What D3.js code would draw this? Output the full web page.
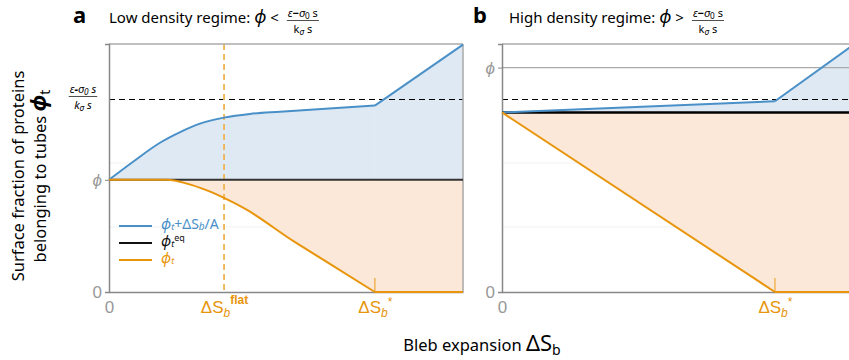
<!DOCTYPE html>
<html>
<head>
<meta charset="utf-8">
<script src="https://cdn.jsdelivr.net/npm/d3@7"></script>
<style>
  body { margin: 0; background: #fff; }
  svg { display: block; }
  text { font-family: "Noto Sans", "Open Sans", sans-serif; }
  .tick text { font-family: "Liberation Sans", Arial, sans-serif; }
</style>
</head>
<body>
<div id="chart"></div>
<script>
// panel a : low density regime
const blebA = [0, 0.068, 0.144, 0.201, 0.257, 0.325, 0.398, 0.483, 0.751, 1.0];
const sumA = [1, 1.161, 1.330, 1.425, 1.500, 1.554, 1.587, 1.607, 1.661, 2.205];
const blebTubeA = [0, 0.164, 0.220, 0.277, 0.325, 0.390, 0.520, 0.616, 0.751, 1.0];
const tubeA = [1, 1, 0.966, 0.905, 0.838, 0.731, 0.455, 0.267, 0, 0];
const eqA = 1;          // phi_t^eq = phi
const flatA = 0.325;    // dS_b^flat
const starA = 0.751;    // dS_b*

// panel b : high density regime
const blebB = [0, 0.771, 1.0];
const sumB = [1.6, 1.70, 2.22];
const tubeB = [1.6, 0, 0];
const eqB = 1.6;
const phiB = 2.0;
const starB = 0.771;

const thresh = 1.72;        // (eps - sigma0 s)/(k_sigma s)
const faintGrid = [0.58, 1.15];

const W = 849, H = 360;
const blue = "#4a90c8", blueFill = "#dfe9f3";
const orange = "#e8950c", orangeLight = "#efb454", orangeFill = "#fbe8d8";
const grey = "#999";

const svg = d3.select("#chart").append("svg")
  .attr("width", W).attr("height", H);

const y = d3.scaleLinear().domain([0, 2.21]).range([292, 44]);

svg.append("defs").append("clipPath").attr("id", "clipAll")
  .append("rect").attr("x", 0).attr("y", 0).attr("width", W).attr("height", H);

function fracLabel(g, x, yNum, size, italic) {
  // stacked fraction (eps - sigma0 s) / (k_sigma s)
  const t1 = g.append("text").attr("x", x).attr("y", yNum)
    .attr("text-anchor", "middle").attr("font-size", size)
    .attr("font-style", italic ? "italic" : "normal");
  t1.append("tspan").attr("font-style", "italic").text("ε");
  t1.append("tspan").attr("font-weight", "bold").text("−");
  t1.append("tspan").attr("font-style", "italic").text("σ");
  t1.append("tspan").attr("font-size", size * 0.75).attr("dy", 2).text("0");
  t1.append("tspan").attr("dy", -2).text(" s");
  const t2 = g.append("text").attr("x", x).attr("y", yNum + size * 1.45)
    .attr("text-anchor", "middle").attr("font-size", size)
    .attr("font-style", italic ? "italic" : "normal");
  t2.append("tspan").text("k");
  t2.append("tspan").attr("font-style", "italic").attr("font-size", size * 0.75).attr("dy", 2).text("σ");
  t2.append("tspan").attr("dy", -2).text(" s");
  const w = t1.node().getComputedTextLength() + 2;
  g.append("line").attr("x1", x - w / 2).attr("x2", x + w / 2)
    .attr("y1", yNum + 3.5).attr("y2", yNum + 3.5)
    .attr("stroke", "#222").attr("stroke-width", 0.8);
}

function xTickLabel(sel, kind) {
  sel.text(null);
  if (kind === "0") { sel.text("0"); return; }
  sel.append("tspan").text("ΔS");
  sel.append("tspan").attr("font-style", "italic").attr("font-size", 12).attr("dy", 4).text("b");
  if (kind === "flat") {
    sel.append("tspan").attr("font-size", 12).attr("font-weight", "bold").attr("dy", -13).text("flat");
  } else {
    sel.append("tspan").attr("font-size", 12).attr("dy", -11).text("*");
  }
}

function panel(opts) {
  const x = d3.scaleLinear().domain([0, 1]).range([opts.x0, opts.x0 + 354]);
  const g = svg.append("g").attr("clip-path", "url(#clipAll)");

  // faint grid
  g.selectAll(".fg").data(faintGrid).join("line")
    .attr("x1", x(0)).attr("x2", x(1))
    .attr("y1", d => y(d)).attr("y2", d => y(d))
    .attr("stroke", "#f1f1f1").attr("stroke-width", 1);

  const sumData = opts.bleb.map((d, i) => [d, opts.sum[i]]);
  const tubeData = opts.blebTube.map((d, i) => [d, opts.tube[i]]);
  const curve = opts.smooth ? d3.curveMonotoneX : d3.curveLinear;
  // smooth part up to the kink, straight after it
  const k1 = sumData.length - 2, k2 = tubeData.length - 2;
  const parts = [
    [sumData.slice(0, k1 + 1), curve, blue, blueFill],
    [sumData.slice(k1), d3.curveLinear, blue, blueFill],
    [tubeData.slice(0, k2 + 1), curve, orange, orangeFill],
    [tubeData.slice(k2), d3.curveLinear, orange, orangeFill]
  ];
  parts.forEach(p => {
    g.append("path").datum(p[0]).attr("fill", p[3]).attr("stroke", p[3]).attr("stroke-width", 0.6)
      .attr("d", d3.area().curve(p[1]).x(d => x(d[0])).y0(y(opts.eq)).y1(d => y(d[1])));
  });

  // phi gridline (panel b)
  if (opts.phiLine != null) {
    g.append("line").attr("x1", x(0)).attr("x2", x(1))
      .attr("y1", y(opts.phiLine)).attr("y2", y(opts.phiLine))
      .attr("stroke", "#aaa").attr("stroke-width", 1.2);
  }

  // threshold dashed line
  g.append("line").attr("x1", x(0)).attr("x2", x(1))
    .attr("y1", Math.round(y(thresh)) + 0.5).attr("y2", Math.round(y(thresh)) + 0.5)
    .attr("stroke", "#000").attr("stroke-width", 1.1).attr("stroke-dasharray", "6,4");

  // flat marker
  if (opts.flat != null) {
    g.append("line").attr("x1", x(opts.flat)).attr("x2", x(opts.flat))
      .attr("y1", y.range()[1]).attr("y2", y(0))
      .attr("stroke", orangeLight).attr("stroke-width", 1.8).attr("stroke-dasharray", "6,4");
  }

  // frame: top & right
  g.append("line").attr("x1", x(0)).attr("x2", x(1)).attr("y1", 44).attr("y2", 44)
    .attr("stroke", "#aaa").attr("stroke-width", 1.5);
  g.append("line").attr("x1", x(1)).attr("x2", x(1)).attr("y1", 44).attr("y2", y(0))
    .attr("stroke", "#aaa").attr("stroke-width", 1.5);

  // axes
  const yAx = g.append("g").attr("transform", `translate(${x(0)},0)`)
    .call(d3.axisLeft(y).tickValues(opts.yTicks).tickSize(4).tickFormat(d => d === 0 ? "0" : "ϕ"));
  yAx.select(".domain").attr("stroke", "#888").attr("stroke-width", 1.5);
  yAx.selectAll(".tick line").attr("stroke", "#888");
  yAx.selectAll(".tick text").attr("fill", grey).attr("font-size", 17)
    .attr("font-style", d => d === 0 ? "normal" : "italic").attr("x", -7);

  const xAx = g.append("g").attr("transform", `translate(0,${y(0)})`)
    .call(d3.axisBottom(x).tickValues(opts.xTicks.map(t => t.v)).tickSize(0));
  xAx.select(".domain").attr("stroke", "#888").attr("stroke-width", 1.5);
  xAx.selectAll(".tick text").attr("font-size", 17).attr("dy", "1.05em")
    .attr("fill", (d, i) => opts.xTicks[i].k === "0" ? grey : orange)
    .each(function (d, i) { xTickLabel(d3.select(this), opts.xTicks[i].k); });

  // orange tail along zero
  g.append("line").attr("x1", x(opts.star)).attr("x2", x(1))
    .attr("y1", y(0)).attr("y2", y(0)).attr("stroke", orangeLight).attr("stroke-width", 2);
  // star tick
  g.append("line").attr("x1", x(opts.star)).attr("x2", x(opts.star))
    .attr("y1", y(0) - 14).attr("y2", y(0))
    .attr("stroke", orangeLight).attr("stroke-width", 1.5);

  // eq line
  g.append("line").attr("x1", x(0)).attr("x2", x(1))
    .attr("y1", y(opts.eq)).attr("y2", y(opts.eq))
    .attr("stroke", opts.eqColor).attr("stroke-width", opts.eqWidth);

  // curves
  parts.forEach(p => {
    g.append("path").datum(p[0]).attr("fill", "none")
      .attr("stroke", p[2]).attr("stroke-width", 2).attr("stroke-linejoin", "round")
      .attr("d", d3.line().curve(p[1]).x(d => x(d[0])).y(d => y(d[1])));
  });

  return x;
}

panel({
  x0: 109, bleb: blebA, sum: sumA, blebTube: blebTubeA, tube: tubeA,
  eq: eqA, eqColor: "#333", eqWidth: 2, smooth: true, flat: flatA, star: starA,
  yTicks: [0, eqA],
  xTicks: [{ v: 0, k: "0" }, { v: flatA, k: "flat" }, { v: starA, k: "star" }]
});
panel({
  x0: 502, bleb: blebB, sum: sumB, blebTube: blebB, tube: tubeB,
  eq: eqB, eqColor: "#000", eqWidth: 2.5, smooth: false, flat: null, star: starB,
  phiLine: phiB,
  yTicks: [0, phiB],
  xTicks: [{ v: 0, k: "0" }, { v: starB, k: "star" }]
});

// threshold tick label (panel a)
fracLabel(svg.append("g"), 83, 93, 11, true);

// legend
const legend = svg.append("g");
const legItems = [
  { c: blue, y: 226, k: "sum" },
  { c: "#111", y: 243, k: "eq" },
  { c: orange, y: 260, k: "t" }
];
legend.selectAll("line").data(legItems).join("line")
  .attr("x1", 119).attr("x2", 152).attr("y1", d => d.y).attr("y2", d => d.y)
  .attr("stroke", d => d.c).attr("stroke-width", 2);
legend.selectAll("text").data(legItems).join("text")
  .attr("x", 161).attr("y", d => d.y + 3).attr("fill", d => d.c).attr("font-size", 14)
  .attr("font-family", "Liberation Sans, Arial, sans-serif")
  .each(function (d) {
    const t = d3.select(this);
    t.append("tspan").attr("font-style", "italic").attr("font-size", 15).text("ϕ");
    t.append("tspan").attr("font-style", "italic").attr("font-size", 9).attr("dy", 1).text("t");
    if (d.k === "sum") {
      t.append("tspan").attr("dy", -1).text("+ΔS");
      t.append("tspan").attr("font-style", "italic").attr("font-size", 10).attr("dy", 1).text("b");
      t.append("tspan").attr("dy", -1).text("/A");
    } else if (d.k === "eq") {
      t.append("tspan").attr("font-size", 9).attr("dy", -6).text("eq");
    }
  });

// titles
function title(x, letter, text, sign) {
  svg.append("text").attr("x", x).attr("y", 23).attr("font-size", 22)
    .attr("font-weight", "bold").attr("font-family", "Liberation Sans, Arial, sans-serif").text(letter);
  const t = svg.append("text").attr("x", x + 36).attr("y", 23).attr("font-size", 15);
  t.append("tspan").text(text + " ");
  t.append("tspan").attr("font-style", "italic").attr("font-size", 18).text("ϕ");
  t.append("tspan").text(" " + sign);
  const end = t.node().getComputedTextLength() + x + 36;
  fracLabel(svg.append("g"), end + 24, 17, 11, false);
}
title(73, "a", "Low density regime:", "<");
title(473, "b", "High density regime:", ">");

// axis titles
svg.append("text").attr("transform", "translate(24,176) rotate(-90)")
  .attr("text-anchor", "middle").attr("font-size", 16.5).text("Surface fraction of proteins");
const yl2 = svg.append("text").attr("transform", "translate(46,176) rotate(-90)")
  .attr("text-anchor", "middle").attr("font-size", 16.5);
yl2.append("tspan").text("belonging to tubes ");
yl2.append("tspan").attr("font-style", "italic").attr("font-weight", "bold").attr("font-size", 22).text("ϕ");
yl2.append("tspan").attr("font-size", 14).attr("dy", 4).text("t");

const xl = svg.append("text").attr("x", 482).attr("y", 351)
  .attr("text-anchor", "middle").attr("font-size", 16.5);
xl.append("tspan").text("Bleb expansion ");
xl.append("tspan").attr("font-size", 22).text("ΔS");
xl.append("tspan").attr("font-size", 14).attr("dy", 4).text("b");
</script>
</body>
</html>
